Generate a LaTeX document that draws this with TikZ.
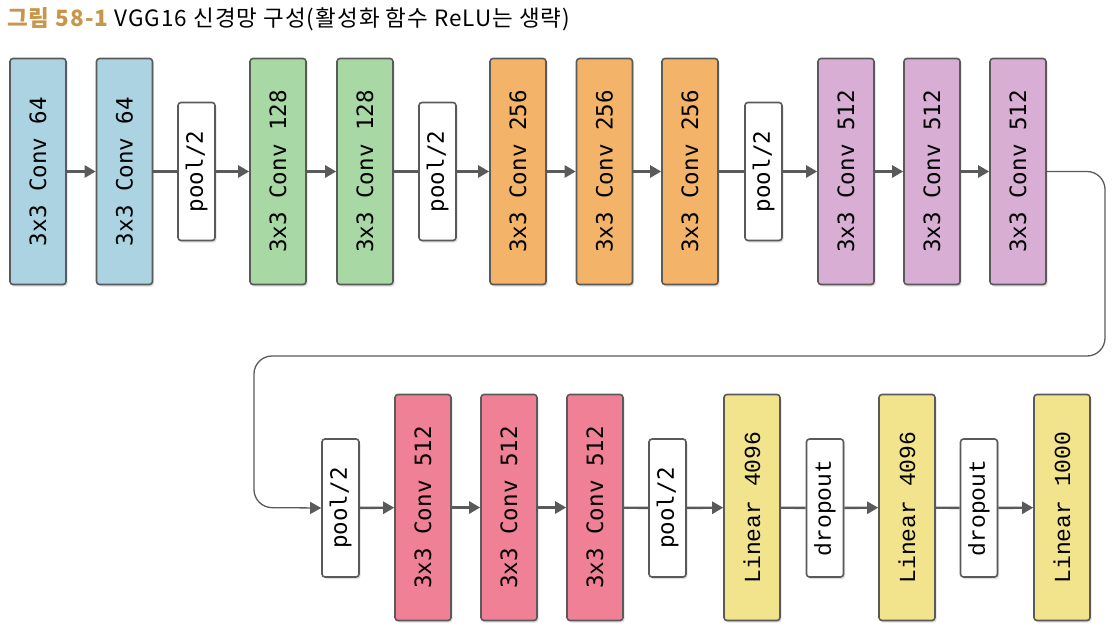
\documentclass[tikz,border=0pt]{standalone}
\usepackage{fontspec}
\usetikzlibrary{arrows.meta}
\newfontfamily\krfont[LetterSpace=4.5]{Noto Sans CJK KR}
\newfontfamily\labfont{DejaVu Sans Mono}
\newfontfamily\linfont{Liberation Mono}
\definecolor{cblue}{HTML}{ABD3E1}
\definecolor{cgreen}{HTML}{A8D8A4}
\definecolor{corange}{HTML}{F3B46A}
\definecolor{cpurple}{HTML}{D8AED4}
\definecolor{cpink}{HTML}{F08096}
\definecolor{cyellow}{HTML}{F2E48C}
\definecolor{cgold}{HTML}{C8964A}
\definecolor{cline}{HTML}{5A5A5A}
\tikzset{
  blk/.style={draw=cline, line width=1.6pt, rounded corners=3pt, minimum width=56pt, minimum height=226pt, inner sep=0pt,
    font=\labfont\fontsize{22.5}{24}\selectfont, text=black,
    preaction={fill=black!25, opacity=0.5, transform canvas={shift={(1.5pt,-2pt)}}}},
  poolbox/.style={blk, fill=white, minimum width=37pt, minimum height=138pt},
  linbox/.style={blk, fill=cyellow, font=\linfont\fontsize{23}{24}\selectfont},
  dropbox/.style={poolbox, font=\linfont\fontsize{23}{24}\selectfont},
  arr/.style={draw=cline, line width=2.4pt, -{Triangle[length=11pt,width=12pt]}},
  ln/.style={draw=cline, line width=2.4pt},
  longarr/.style={draw=cline, line width=1.3pt, rounded corners=18pt, -{Triangle[length=11pt,width=12pt]}}
}
\begin{document}
\begin{tikzpicture}[x=1pt,y=-1pt]
\useasboundingbox (0,0) rectangle (1114,633);
\node[anchor=west, inner sep=0pt, font=\krfont\fontsize{22.5}{24}\selectfont] (title) at (7,19)
  {{\color{cgold}\bfseries 그림 58-1} VGG16 신경망 구성(활성화 함수 ReLU는 생략)};
% row 1
\node[blk, fill=cblue] (b1) at (38,171.5) {\rotatebox{90}{3x3 Conv 64}};
\node[blk, fill=cblue] (b2) at (124.5,171.5) {\rotatebox{90}{3x3 Conv 64}};
\node[poolbox] (p1) at (196.5,171.5) {\rotatebox{90}{pool/2}};
\node[blk, fill=cgreen] (b3) at (278,171.5) {\rotatebox{90}{3x3 Conv 128}};
\node[blk, fill=cgreen] (b4) at (365,171.5) {\rotatebox{90}{3x3 Conv 128}};
\node[poolbox] (p2) at (437.5,171.5) {\rotatebox{90}{pool/2}};
\node[blk, fill=corange] (b5) at (518,171.5) {\rotatebox{90}{3x3 Conv 256}};
\node[blk, fill=corange] (b6) at (604.5,171.5) {\rotatebox{90}{3x3 Conv 256}};
\node[blk, fill=corange] (b7) at (690,171.5) {\rotatebox{90}{3x3 Conv 256}};
\node[poolbox] (p3) at (763.5,171.5) {\rotatebox{90}{pool/2}};
\node[blk, fill=cpurple] (b8) at (846,171.5) {\rotatebox{90}{3x3 Conv 512}};
\node[blk, fill=cpurple] (b9) at (932,171.5) {\rotatebox{90}{3x3 Conv 512}};
\node[blk, fill=cpurple] (b10) at (1018,171.5) {\rotatebox{90}{3x3 Conv 512}};
% row 2
\node[poolbox] (p4) at (340.5,508) {\rotatebox{90}{pool/2}};
\node[blk, fill=cpink] (b11) at (423,507.5) {\rotatebox{90}{3x3 Conv 512}};
\node[blk, fill=cpink] (b12) at (509,507.5) {\rotatebox{90}{3x3 Conv 512}};
\node[blk, fill=cpink] (b13) at (595,507.5) {\rotatebox{90}{3x3 Conv 512}};
\node[poolbox] (p5) at (667.5,508) {\rotatebox{90}{pool/2}};
\node[linbox] (l1) at (752,507.5) {\rotatebox{90}{Linear 4096}};
\node[dropbox] (d1) at (825,508) {\rotatebox{90}{dropout}};
\node[linbox] (l2) at (907,507.5) {\rotatebox{90}{Linear 4096}};
\node[dropbox] (d2) at (979,508) {\rotatebox{90}{dropout}};
\node[linbox] (l3) at (1062,507.5) {\rotatebox{90}{Linear 1000}};
% connectors row 1
\draw[arr] (b1) -- (b2);
\draw[ln] (b2) -- (p1);
\draw[arr] (p1) -- (b3);
\draw[arr] (b3) -- (b4);
\draw[ln] (b4) -- (p2);
\draw[arr] (p2) -- (b5);
\draw[arr] (b5) -- (b6);
\draw[arr] (b6) -- (b7);
\draw[ln] (b7) -- (p3);
\draw[arr] (p3) -- (b8);
\draw[arr] (b8) -- (b9);
\draw[arr] (b9) -- (b10);
% wrap connector
\coordinate (c1) at (1105,356);
\coordinate (c2) at (254,507.5);
\draw[longarr] (b10.east) -| (c1) -| (c2) -- (p4.west);
% connectors row 2
\draw[arr] (p4) -- (b11);
\draw[arr] (b11) -- (b12);
\draw[arr] (b12) -- (b13);
\draw[ln] (b13) -- (p5);
\draw[arr] (p5) -- (l1);
\draw[ln] (l1) -- (d1);
\draw[arr] (d1) -- (l2);
\draw[ln] (l2) -- (d2);
\draw[arr] (d2) -- (l3);
\end{tikzpicture}
\end{document}
